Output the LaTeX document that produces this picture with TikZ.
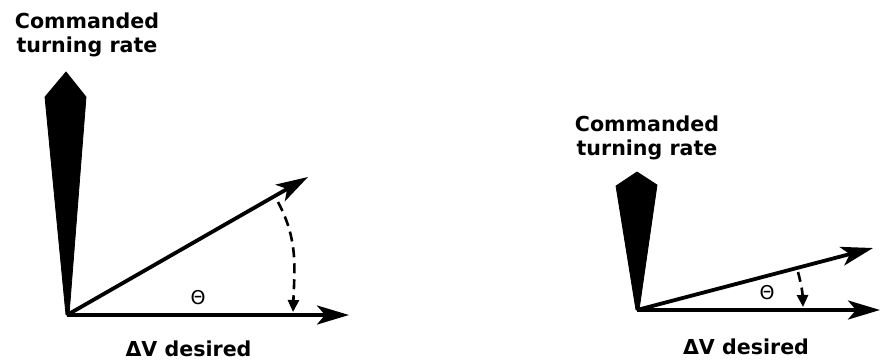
\documentclass[tikz,border=0pt]{standalone}
\usepackage{fontspec}
\setmainfont{DejaVu Sans}
\usetikzlibrary{arrows.meta}
\tikzset{
  vec/.style={line width=1.9pt, -{Stealth[length=16pt, width=9.5pt, inset=4pt]}},
  needle/.style={fill=black, draw=black, line join=round},
  sweep/.style={line width=1.3pt, dash pattern=on 5pt off 3pt, -{Triangle[length=6pt, width=5.5pt]}},
  lbl/.style={font=\fontsize{10.3}{12}\selectfont\bfseries, align=center},
  ang/.style={font=\fontsize{9.5}{10}\selectfont}
}
\begin{document}
\begin{tikzpicture}[x=0.5pt, y=0.5pt]
    \useasboundingbox (0,0) rectangle (881,360);
    % Large angle
    \begin{scope}[shift={(67,45)}]
        \coordinate (o1) at (0,0);
        \coordinate (dv1) at (282,0);
        \coordinate (v1) at (241,138);
        \coordinate (s1) at (211,113);
        \coordinate (e1) at (226,3);
        \fill[needle] (-1,243) -- (19,218) -- (2,0) -- (-1,0) -- (-22,218) -- cycle;
        \draw[vec] (o1) -- (dv1);
        \draw[vec] (o1) -- (v1);
        \draw[sweep] (s1) to[out=-62, in=88] (e1);
        \node[ang] (th1) at (131,17) {Θ};
        \node[lbl] (dvl1) at (121.5,-34) {ΔV desired};
        \node[lbl] (cmd1) at (20,280) {Commanded\\turning rate};
    \end{scope}
    % Small angle
    \begin{scope}[shift={(637,50)}]
        \coordinate (o2) at (0,0);
        \coordinate (dv2) at (243,0);
        \coordinate (v2) at (236,62);
        \coordinate (s2) at (161,38);
        \coordinate (e2) at (166,3);
        \fill[needle] (0,138) -- (20,125) -- (2,0) -- (-1,0) -- (-21,124) -- cycle;
        \draw[vec] (o2) -- (dv2);
        \draw[vec] (o2) -- (v2);
        \draw[sweep] (s2) to[out=-75, in=92] (e2);
        \node[ang] (th2) at (130,17) {Θ};
        \node[lbl] (dvl2) at (109,-37) {ΔV desired};
        \node[lbl] (cmd2) at (10,172) {Commanded\\turning rate};
    \end{scope}
\end{tikzpicture}
\end{document}
